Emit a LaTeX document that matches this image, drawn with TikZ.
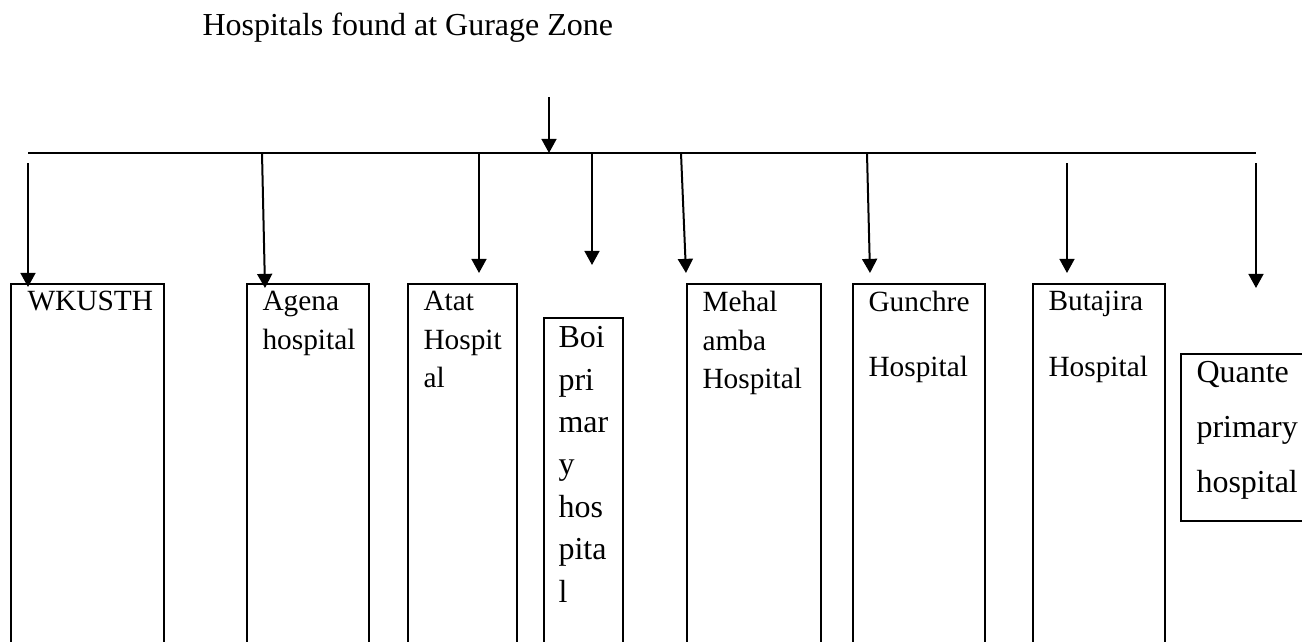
\documentclass[tikz,border=0pt]{standalone}
\usepackage{fontspec}
\setmainfont{Liberation Serif}
\usetikzlibrary{arrows.meta}
\newdimen\pxu
\pxu=0.375pt
\tikzset{
  box/.style={draw, line width=0.75pt, anchor=north west, inner sep=0pt, outer sep=0pt},
  lbl/.style={anchor=north west, inner sep=0pt, align=left},
  link/.style={-{Triangle[length=5.3pt,width=5.6pt]}, line width=0.75pt}
}
\begin{document}
\begin{tikzpicture}[x=\pxu, y=-\pxu]
  \clip (0,0) rectangle (1302,641);
  \node[anchor=base west, inner sep=0pt, font=\fontsize{12pt}{14pt}\selectfont] (title) at (202,35) {Hospitals found at Gurage Zone};
  \coordinate (busl) at (28,153);
  \coordinate (busr) at (1256,153);
  \coordinate (top) at (549,97);
  \coordinate (topend) at (549,153);
  \draw[line width=0.75pt] (busl) -- (busr);
  \draw[link] (top) -- (topend);
  \foreach \n/\bx/\by/\bw/\bh in {wk/11/284/153/400, agena/247/284/122/400, atat/408/284/109/400, boi/544/318/79/400,
      mehal/687/284/134/400, gunchre/853/284/132/400, butajira/1033/284/132/400, quante/1181/354/140/167}
    \node[box, minimum width=\bw\pxu, minimum height=\bh\pxu] (\n) at (\bx,\by) {};
  \foreach \n/\xa/\ya/\xb/\yb in {1/28/163/28/287, 2/262/153/265/288, 3/479/153/479/273, 4/592/153/592/265,
      5/681/153/686/273, 6/867/153/870/273, 7/1067/163/1067/273, 8/1256/163/1256/288} {
    \coordinate (s\n) at (\xa,\ya);
    \coordinate (e\n) at (\xb,\yb);
    \draw[link] (s\n) -- (e\n);
  }
  \node[lbl, font=\fontsize{11pt}{14.5pt}\selectfont] (wkt) at (27,291) {WKUSTH};
  \node[lbl, font=\fontsize{11pt}{14.6pt}\selectfont] (agenat) at (262,291) {Agena\\hospital};
  \node[lbl, font=\fontsize{11pt}{14.4pt}\selectfont] (atatt) at (423,291) {Atat\\Hospit\\al};
  \node[lbl, font=\fontsize{12pt}{15.9pt}\selectfont] (boit) at (558,326) {Boi\\pri\\mar\\y\\hos\\pita\\l};
  \node[lbl, font=\fontsize{11pt}{14.4pt}\selectfont] (mehalt) at (702,291) {Mehal\\amba\\Hospital};
  \node[lbl, font=\fontsize{11pt}{24.4pt}\selectfont] (gunchret) at (868,291) {Gunchre\\Hospital};
  \node[lbl, font=\fontsize{11pt}{24.4pt}\selectfont] (butajirat) at (1048,291) {Butajira\\Hospital};
  \node[lbl, font=\fontsize{12pt}{20.6pt}\selectfont] (quantet) at (1196,361) {Quante\\primary\\hospital};
\end{tikzpicture}
\end{document}
